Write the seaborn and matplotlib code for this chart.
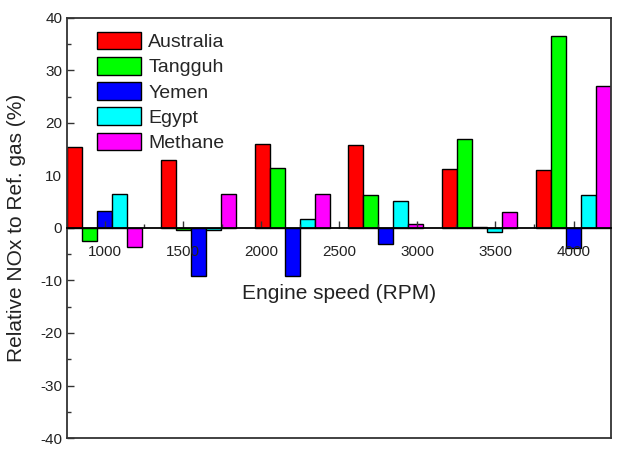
import seaborn as sns
import matplotlib.pyplot as plt
import pandas as pd
from matplotlib.ticker import MultipleLocator

# relative NOx (%) per gas, one value per engine-speed group
groups = ['G1', 'G2', 'G3', 'G4', 'G5', 'G6']
gases = ['Australia', 'Tangguh', 'Yemen', 'Egypt', 'Methane']
australia = [15.5, 12.9, 16.0, 15.7, 11.3, 11.0]
tangguh = [-2.5, -0.3, 11.4, 6.2, 17.0, 36.6]
yemen = [3.2, -9.2, -9.2, -3.0, 0.1, -3.9]
egypt = [6.5, -0.3, 1.7, 5.1, -0.8, 6.2]
methane = [-3.6, 6.5, 6.5, 0.7, 3.0, 27.0]
colors = ['#ff0000', '#00ff00', '#0000ff', '#00ffff', '#ff00ff']
rpm_ticks = [1000, 1500, 2000, 2500, 3000, 3500, 4000]

series = [australia, tangguh, yemen, egypt, methane]
rows = []
for gas, vals in zip(gases, series):
    for g, v in zip(groups, vals):
        rows.append({'group': g, 'gas': gas, 'value': v})
df = pd.DataFrame(rows)

sns.set_style('ticks')
plt.rcParams['font.family'] = ['Liberation Sans', 'DejaVu Sans']
plt.rcParams['axes.unicode_minus'] = False
txt = '#222222'

fig = plt.figure(figsize=(6.21, 4.69), dpi=100)
ax = fig.add_axes([0.108, 0.066, 0.876, 0.896])

sns.barplot(data=df, x='group', y='value', hue='gas', order=groups,
            hue_order=gases, palette=colors, saturation=1, width=0.8,
            edgecolor='black', linewidth=1, ax=ax)

# rpm axis drawn on the zero line
step = (rpm_ticks[-1] - rpm_ticks[0]) / (len(groups) - 1)
ax2 = ax.twiny()
ax2.set_xlim(rpm_ticks[0] - 0.4 * step, rpm_ticks[-1] + 0.4 * step)
ax2.set_xticks(rpm_ticks)
ax2.xaxis.set_minor_locator(MultipleLocator(250))
ax2.xaxis.set_ticks_position('bottom')
ax2.xaxis.set_label_position('bottom')
ax2.spines['bottom'].set_position(('data', 0))
ax2.spines['bottom'].set_color('black')
ax2.spines['bottom'].set_linewidth(1.3)
for s in ['top', 'left', 'right']:
    ax2.spines[s].set_visible(False)
ax2.tick_params(axis='x', which='major', direction='in', length=5, width=1,
                pad=12, labelsize=11, labelcolor=txt, color='#333333')
ax2.tick_params(axis='x', which='minor', direction='in', length=3, width=1,
                color='#333333')
ax2.set_xlabel('Engine speed (RPM)', fontsize=15, color=txt, labelpad=18)

ax.set_xlim(-0.4, len(groups) - 0.6)
ax.set_ylim(-40, 40)
ax.yaxis.set_major_locator(MultipleLocator(10))
ax.yaxis.set_minor_locator(MultipleLocator(5))
ax.tick_params(axis='x', which='both', bottom=False, top=False,
               labelbottom=False, labeltop=False)
ax.tick_params(axis='y', which='major', direction='in', length=5, width=1,
               labelsize=11, labelcolor=txt, color='#333333')
ax.tick_params(axis='y', which='minor', direction='in', length=3, width=1,
               color='#333333')
ax.set_xlabel('')
ax.set_ylabel('Relative NOx to Ref. gas (%)', fontsize=15, color=txt, labelpad=10)
for s in ax.spines.values():
    s.set_visible(True)
    s.set_color('#333333')
    s.set_linewidth(1.3)

ax.legend(loc='upper left', bbox_to_anchor=(0.04, 0.985), frameon=False,
          fontsize=14, handlelength=2.3, handleheight=1.0, labelspacing=0.3,
          handletextpad=0.35, borderaxespad=0)

fig.savefig('out.png', dpi=100)
